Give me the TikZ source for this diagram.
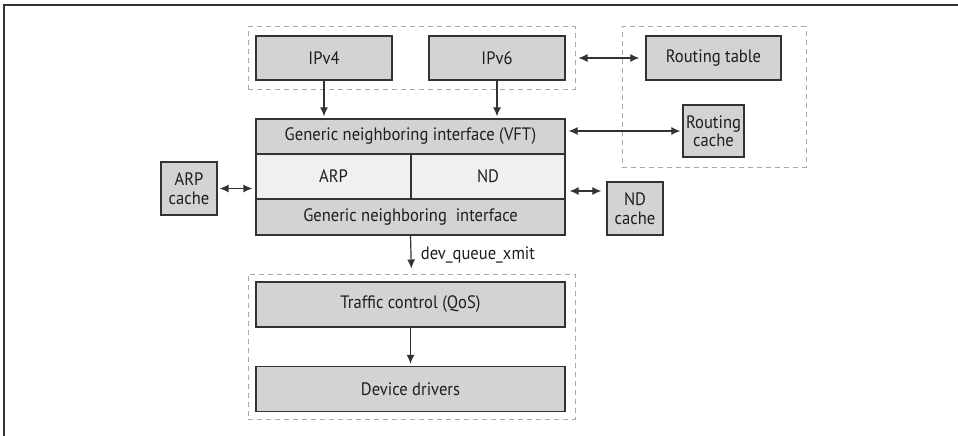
\documentclass[tikz,border=0pt]{standalone}
\usepackage{fontspec}
\setmainfont[FakeStretch=0.92]{PT Sans}
\usepackage{xcolor}
\usetikzlibrary{arrows.meta,positioning,calc}
\definecolor{boxgray}{HTML}{D3D3D5}
\definecolor{paleGray}{HTML}{F0F0F2}
\definecolor{edgeGray}{HTML}{333333}
\definecolor{dashGray}{HTML}{A8A8A8}
\definecolor{inkGray}{HTML}{1E1E1E}
\tikzset{
  every picture/.append style={line cap=butt,line join=miter},
  net box/.style={draw=edgeGray,line width=1.3pt,fill=boxgray,text=inkGray,inner sep=0pt,font=\fontsize{18}{18.5}\selectfont,align=center},
  net light/.style={net box,fill=paleGray},
  net group/.style={draw=dashGray,line width=1pt,dash pattern=on 5pt off 4pt,inner sep=0pt},
  net arrow/.style={edgeGray,line width=1.2pt,-{Latex[length=9pt,width=8pt]}},
  net both/.style={edgeGray,line width=1.2pt,{Latex[length=9pt,width=8pt]}-{Latex[length=9pt,width=8pt]}},
  net note/.style={text=inkGray,font=\fontsize{18}{18.5}\selectfont}
}
\begin{document}
\begin{tikzpicture}[x=1pt,y=-1pt]
  \useasboundingbox (0,0) rectangle (958,436);
  \draw[edgeGray,line width=1.5pt] (4,436) -- (4,5) -- (958,5);
  % dashed groups
  \node[net group,minimum width=327,minimum height=62] (l3) at (411.5,58) {};
  \node[net group,minimum width=184,minimum height=140] (route) at (714,97) {};
  \node[net group,minimum width=327,minimum height=145] (l2) at (411.5,346.5) {};
  % protocol boxes
  \node[net box,minimum width=136,minimum height=44] (ipvfour) at (324,58) {IPv4};
  \node[net box,minimum width=136,minimum height=44] (ipvsix) at (497,58) {IPv6};
  \node[net box,minimum width=135,minimum height=44] (rtable) at (713.5,58) {Routing table};
  \node[net box,minimum width=61,minimum height=52] (rcache) at (713.5,131) {Routing\\cache};
  % neighbouring stack
  \node[net box,minimum width=309,minimum height=35] (vft) at (410.5,136.5) {Generic neighboring interface (VFT)};
  \node[net light,minimum width=155,minimum height=45] (arp) at (333.5,176.5) {ARP};
  \node[net light,minimum width=154,minimum height=45] (nd) at (488,176.5) {ND};
  \node[net box,minimum width=309,minimum height=36] (gni) at (410.5,217) {Generic neighboring\ \ interface};
  \node[net box,minimum width=56,minimum height=53] (arpcache) at (189,188.5) {ARP\\cache};
  \node[net box,minimum width=56,minimum height=53] (ndcache) at (635,208.5) {ND\\cache};
  \coordinate (ndport) at ([yshift=-14.5pt]nd.east);
  % device side
  \node[net box,minimum width=309,minimum height=45] (tc) at (410.5,304.5) {Traffic control (QoS)};
  \node[net box,minimum width=309,minimum height=45] (dd) at (410.5,389) {Device drivers};
  % connectors
  \draw[net arrow,shorten >=2pt] (ipvfour) -- (ipvfour |- vft.north);
  \draw[net arrow,shorten >=2pt] (ipvsix) -- (ipvsix |- vft.north);
  \draw[net both,shorten <=3pt,shorten >=6pt] (l3.east) -- (rtable.west);
  \draw[net both,shorten <=3pt,shorten >=2pt] (vft.east |- rcache) -- (rcache.west);
  \draw[net both,shorten <=2pt,shorten >=3pt] (arpcache.east) -- (arp.west |- arpcache);
  \draw[net both,shorten <=4pt,shorten >=5pt] (ndport) -- (ndcache.west |- ndport);
  \draw[net arrow,shorten >=5pt] (gni.south) -- (l2.north) node[midway,right=6pt,net note] (xmit) {dev\_queue\_xmit};
  \draw[net arrow,shorten >=2pt] (tc) -- (dd);
\end{tikzpicture}
\end{document}
